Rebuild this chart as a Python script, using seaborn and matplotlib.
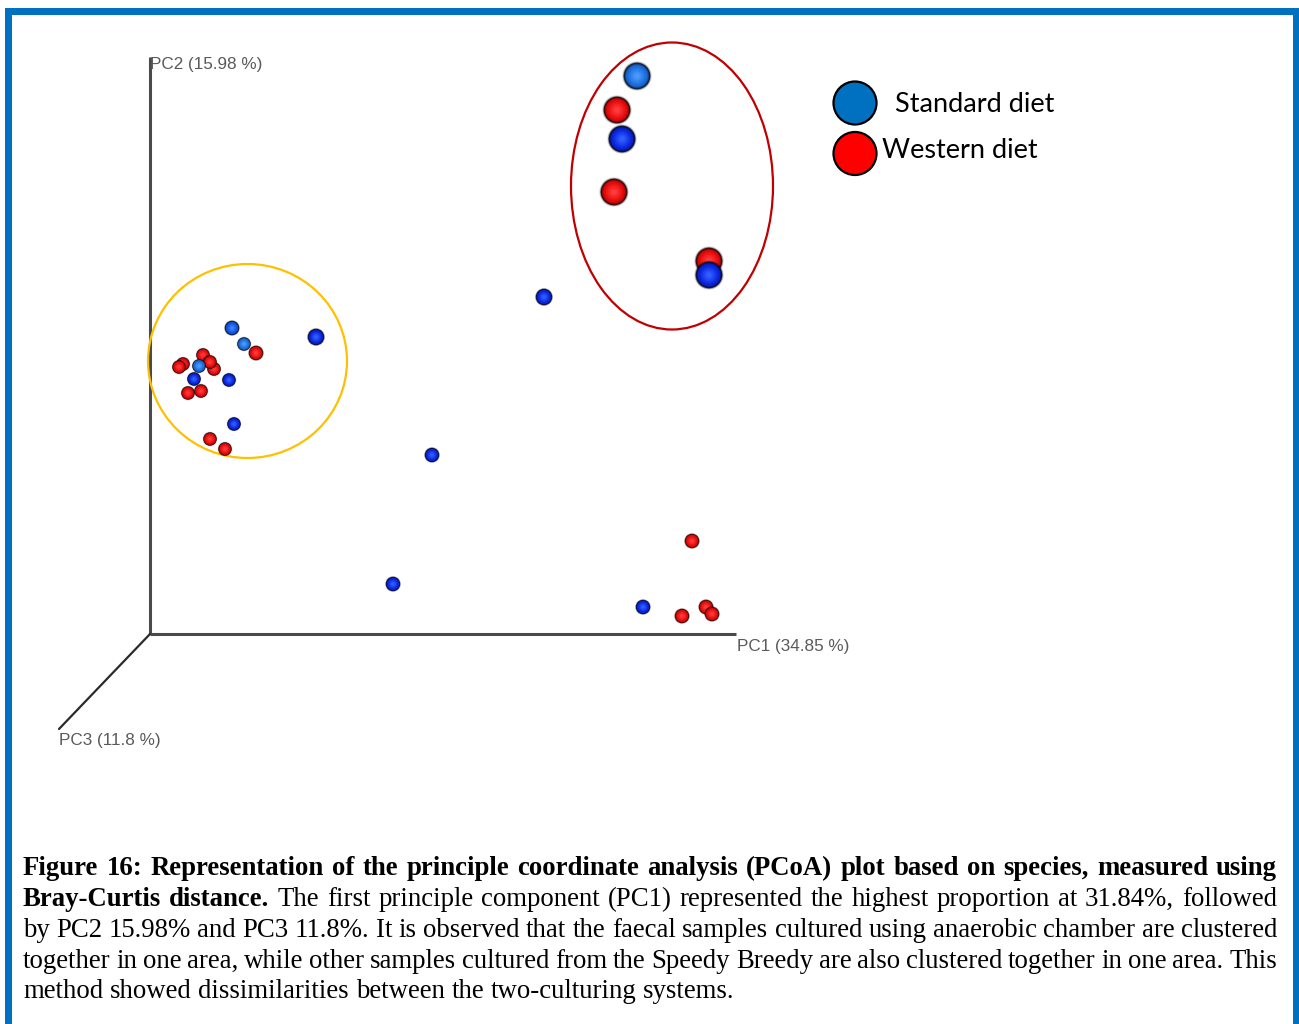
import numpy as np
import pandas as pd
import matplotlib
matplotlib.use("Agg")
import matplotlib.pyplot as plt
import seaborn as sns
from matplotlib.patches import Ellipse, Rectangle
from matplotlib.colors import to_rgb

# ---------------------------------------------------------------------------
# PCoA sample scores, projected onto the drawing plane of the 3-D view
# (origin = corner where PC1, PC2 and PC3 axes meet)
# ---------------------------------------------------------------------------
proj_x = [487, 467, 472, 464, 559, 559,
          394, 166, 282, 243,
          542, 493, 532, 556, 562,
          82, 94, 106, 33, 29, 53, 64, 60, 49, 44, 79, 38, 51, 84, 60, 75]
proj_y = [558, 524, 495, 442, 373, 359,
          337, 297, 179, 50,
          93, 27, 18, 27, 20,
          306, 290, 281, 270, 267, 279, 265, 272, 268, 255, 254, 241, 243, 210, 195, 185]
# apparent sphere radius (depth along PC3)
depth_size = [13, 13, 13, 13, 13, 13,
              8, 8, 7, 7,
              7, 7, 7, 7, 7,
              7, 6.5, 7, 6.5, 6.5, 6.5, 6.5, 6.5, 6.5, 6.5, 6.5, 6.5, 6.5, 6.5, 6.5, 6.5]
diet = ["Standard diet", "Western diet", "Standard diet", "Western diet", "Western diet", "Standard diet",
        "Standard diet", "Standard diet", "Standard diet", "Standard diet",
        "Western diet", "Standard diet", "Western diet", "Western diet", "Western diet",
        "Standard diet", "Standard diet", "Western diet", "Western diet", "Western diet", "Western diet",
        "Western diet", "Western diet", "Standard diet", "Standard diet", "Standard diet",
        "Western diet", "Western diet", "Standard diet", "Western diet", "Western diet"]
# lighting tone of each sphere
tone = ["light", "base", "deep", "base", "base", "deep",
        "deep", "deep", "deep", "deep",
        "base", "deep", "base", "base", "base",
        "mid", "light", "base", "base", "base", "base", "base", "base", "light", "deep", "deep",
        "base", "base", "deep", "base", "base"]

axis_titles = ["PC1 (34.85 %)", "PC2 (15.98 %)", "PC3 (11.8 %)"]
legend_labels = ["Standard diet", "Western diet"]
legend_colors = ["#0070C0", "#FF0000"]

caption_lines = [
    [("Figure 16: Representation of the principle coordinate analysis (PCoA) plot based on species, measured using", True)],
    [("Bray-Curtis distance.", True),
     ("The first principle component (PC1) represented the highest proportion at 31.84%, followed", False)],
    [("by PC2 15.98% and PC3 11.8%. It is observed that the faecal samples cultured using anaerobic chamber are clustered", False)],
    [("together in one area, while other samples cultured from the Speedy Breedy are also clustered together in one area. This", False)],
    [("method showed dissimilarities between the two-culturing systems.", False)],
]

# ---------------------------------------------------------------------------
W, H = 1299, 1024
DPI = 100
sns.set_theme(style="white")
plt.rcParams["font.family"] = ["Liberation Sans", "DejaVu Sans"]

fig = plt.figure(figsize=(W / DPI, H / DPI), dpi=DPI)
fig.patch.set_facecolor("white")

# page overlay in pixel units (frame, legend, caption)
page = fig.add_axes([0, 0, 1, 1])
page.set_xlim(0, W)
page.set_ylim(H, 0)
page.axis("off")

# plot axes: 1 unit = 1 pixel, origin at the axis corner
OX, OY = 150, 634
ax = fig.add_axes([0, 0, 1, 1])
ax.set_xlim(-OX, W - OX)
ax.set_ylim(OY - H, OY)
ax.axis("off")
ax.patch.set_alpha(0)

# blue page frame
frame_col = "#0070C0"
page.add_patch(Rectangle((5, 8), W - 5, 7, color=frame_col, lw=0))
page.add_patch(Rectangle((5, 8), 7, H - 8, color=frame_col, lw=0))
page.add_patch(Rectangle((1293, 8), 6, H - 8, color=frame_col, lw=0))

# 3-D axes
ax.plot([0, 0], [0, 577], color="#4a4a4a", lw=2.2, solid_capstyle="butt", zorder=1)
ax.plot([0, 586], [0, 0], color="#4a4a4a", lw=2.2, solid_capstyle="butt", zorder=1)
ax.plot([0, -91], [0, -95], color="#2a2a2a", lw=1.6, zorder=1)
lab_kw = dict(color="#5a5a5a", fontsize=12.3, family=["Liberation Sans", "DejaVu Sans"])
ax.text(587, -12, axis_titles[0], ha="left", va="center", **lab_kw)
ax.text(0, 570, axis_titles[1], ha="left", va="center", **lab_kw)
ax.text(-91, -107, axis_titles[2], ha="left", va="center", **lab_kw)

# cluster outlines
ax.add_patch(Ellipse((522, 448), 202, 287, fill=False, ec="#C00000", lw=1.6, zorder=2))
ax.add_patch(Ellipse((97.5, 273), 199, 194, fill=False, ec="#FFC000", lw=1.6, zorder=2))

# shaded spheres: concentric layers, drawn point by point in depth order
tones = {
    ("Western diet", "base"): ("#E40A0A", "#FF3A3A"),
    ("Standard diet", "deep"): ("#0A24DC", "#2E5CFF"),
    ("Standard diet", "mid"): ("#1052DA", "#3E80FF"),
    ("Standard diet", "light"): ("#1A6CDA", "#4A98FF"),
}
# (radius fraction, colour recipe, alpha) from the soft outer rim to the centre
profile = [
    (1.14, ("k", 0.0), 0.12),
    (1.08, ("k", 0.0), 0.35),
    (1.02, ("k", 0.15), 0.9),
    (0.96, ("k", 0.45), 1.0),
    (0.90, ("k", 0.75), 1.0),
    (0.84, ("k", 0.92), 1.0),
    (0.78, ("b", 0.0), 1.0),
    (0.64, ("b", 0.25), 1.0),
    (0.50, ("b", 0.5), 1.0),
    (0.36, ("b", 0.75), 1.0),
    (0.22, ("b", 1.0), 1.0),
]
rows = []
for x, y, r, d, t in zip(proj_x, proj_y, depth_size, diet, tone):
    body, hi = (np.array(to_rgb(c)) for c in tones[(d, t)])
    for frac, (kind, m), alpha in profile:
        col = body * m if kind == "k" else body * (1 - m) + hi * m
        d_pt = 2 * r * frac * 72 / DPI
        rows.append(dict(x=x, y=y, s=d_pt ** 2, r=col[0], g=col[1], b=col[2], a=alpha))
spheres = pd.DataFrame(rows)
sns.scatterplot(data=spheres, x="x", y="y", ax=ax, linewidth=0, legend=False, zorder=3)
coll = ax.collections[-1]
coll.set_sizes(spheres["s"].to_numpy())
coll.set_facecolors(spheres[["r", "g", "b", "a"]].to_numpy())
coll.set_edgecolors("none")

# legend
leg = pd.DataFrame(dict(x=[855, 855], y=[103, 153.5], label=legend_labels))
sns.scatterplot(data=leg, x="x", y="y", hue="label", palette=dict(zip(legend_labels, legend_colors)),
                s=(43 * 72 / DPI) ** 2, edgecolor="black", linewidth=1.6, legend=False, ax=page, zorder=5)
leg_kw = dict(fontsize=19.5, color="black", family=["Lato", "DejaVu Sans"], va="baseline", ha="left")
page.text(895, 112, legend_labels[0], **leg_kw)
page.text(882, 158, legend_labels[1], **leg_kw)

# justified caption
renderer = fig.canvas.get_renderer()
cap_kw = dict(fontsize=19.3, color="black", family=["Liberation Serif", "DejaVu Serif"], va="baseline")
X0, X1 = 23, 1277
baselines = [875, 906, 937, 968, 998]
for li, (segs, yb) in enumerate(zip(caption_lines, baselines)):
    words = []
    for text, bold in segs:
        for w in text.split(" "):
            words.append((w, bold))
    arts = []
    for w, bold in words:
        t = page.text(0, yb, w, fontweight="bold" if bold else "normal", **cap_kw)
        arts.append(t)
    widths = [a.get_window_extent(renderer).width for a in arts]
    if li < len(caption_lines) - 1:
        gap = (X1 - X0 - sum(widths)) / (len(words) - 1)
    else:
        sp = page.text(0, yb, "a a", **cap_kw)
        sp2 = page.text(0, yb, "aa", **cap_kw)
        gap = sp.get_window_extent(renderer).width - sp2.get_window_extent(renderer).width
        sp.remove(); sp2.remove()
    x = X0
    for a, w in zip(arts, widths):
        a.set_x(x)
        x += w + gap

fig.savefig("out.png", dpi=DPI, facecolor="white")
